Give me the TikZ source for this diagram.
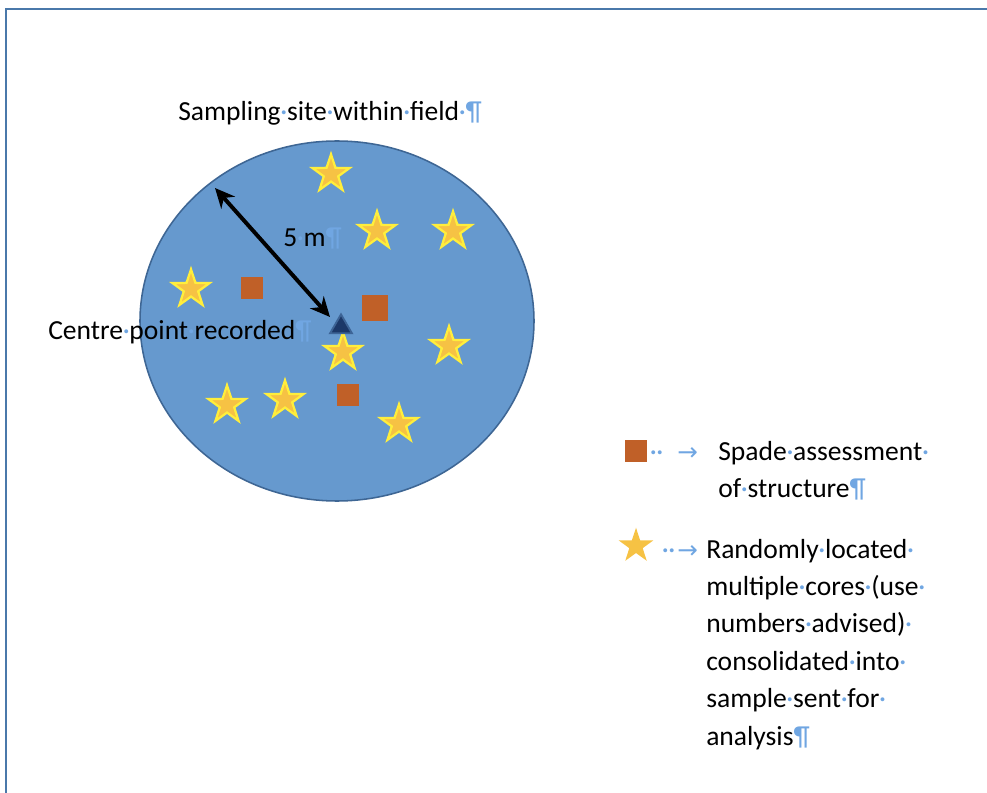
\documentclass[tikz,border=0pt]{standalone}
\usepackage{fontspec}
\setmainfont{Carlito}
\newfontfamily\symfont{DejaVu Sans}
\usepackage{xcolor}
\usetikzlibrary{arrows.meta,positioning,shapes.geometric}
\definecolor{framebl}{RGB}{74,120,170}
\definecolor{fieldbl}{RGB}{102,153,206}
\definecolor{rimbl}{RGB}{62,102,148}
\definecolor{coreyel}{RGB}{246,194,68}
\definecolor{rimyel}{RGB}{255,238,60}
\definecolor{spadeor}{RGB}{192,96,40}
\definecolor{ctrnavy}{RGB}{28,56,104}
\definecolor{markbl}{RGB}{112,166,226}
% Word formatting marks
\newcommand{\wsp}{\makebox[0.23em]{\textcolor{markbl}{·}}}
\newcommand{\pil}{\textcolor{markbl}{¶}}
\newcommand{\tabarr}{\textcolor{markbl}{\symfont\fontsize{17.5}{17.5}\selectfont →}}
\tikzset{
  corestar/.style={star,star points=5,star point ratio=2.6,fill=coreyel,draw=rimyel,line width=1.6pt,inner sep=0pt,minimum size=28pt},
  legstar/.style={star,star points=5,star point ratio=2.6,fill=coreyel,inner sep=0pt,minimum size=26pt},
  spadebox/.style={rectangle,fill=spadeor,inner sep=0pt,minimum size=16pt},
  ctrtri/.style={regular polygon,regular polygon sides=3,fill=ctrnavy,draw=ctrnavy!55!fieldbl,line width=1.3pt,inner sep=0pt,minimum size=18pt},
  radarr/.style={{Stealth[length=14pt,width=13pt]}-{Stealth[length=14pt,width=13pt]},line width=2.8pt},
  lab/.style={font=\fontsize{19.6}{26.6}\selectfont,inner sep=0pt,anchor=base west},
}

\begin{document}
\begin{tikzpicture}[x=0.025cm,y=-0.025cm]
        \useasboundingbox (0,0) rectangle (987,793);
        % --- page frame ---
        \draw[framebl,line width=1.5pt] (987,9) -- (6,9) -- (6,793);
        % --- sampling site ---
        \draw[rimbl,fill=fieldbl,line width=1.1pt] (337,321) ellipse [x radius=197, y radius=180];
        \node[lab] (title) at (178,121) {Sampling\wsp site\wsp within\wsp field\wsp\pil};
        % cores
        \foreach \x/\y [count=\k] in {331/174, 377/231, 453/231, 191/289, 343/352,
                                       449/346, 227/405, 285/400, 399/424}
          \node[corestar] (core\k) at (\x,\y) {};
        % spade pits
        \node[spadebox] (spade1) at (252,288) {};
        \node[spadebox,minimum size=18pt] (spade2) at (375,308) {};
        \node[spadebox] (spade3) at (348,395) {};
        % centre + radius
        \node[ctrtri] (centre) at (341,327) {};
        \coordinate (rim) at (215,188);
        \coordinate (tip) at (330,317);
        \draw[radarr] (rim) -- (tip);
        \node[lab] (radlab) at (283,247) {5\wsp m\pil};
        \node[lab] (ctrlab) at (48,340) {Centre\wsp point\wsp recorded\pil};
        % --- key ---
        \node[spadebox] (keysq) at (636,451) {};
        \node[lab] (keydots1) at (650,460) {\wsp\wsp};
        \node[lab] (keyarr1) at (677,460) {\tabarr};
        \node[lab] (keytxt1) at (718,460) {Spade\wsp assessment\wsp};
        \node[lab] (keytxt2) at (718,497.4) {of\wsp structure\pil};
        \node[legstar] (keystar) at (636,546) {};
        \node[lab] (keydots2) at (662,558) {\wsp\wsp};
        \node[lab] (keyarr2) at (677,558) {\tabarr};
        \foreach \t [count=\i from 0] in {Randomly\wsp located\wsp,
                                          multiple\wsp cores\wsp(use\wsp,
                                          numbers\wsp advised)\wsp,
                                          consolidated\wsp into\wsp,
                                          sample\wsp sent\wsp for\wsp,
                                          analysis\pil}
          \node[lab] (core-txt\i) at (706,558+37.4*\i) {\t};
      \end{tikzpicture}
\end{document}
